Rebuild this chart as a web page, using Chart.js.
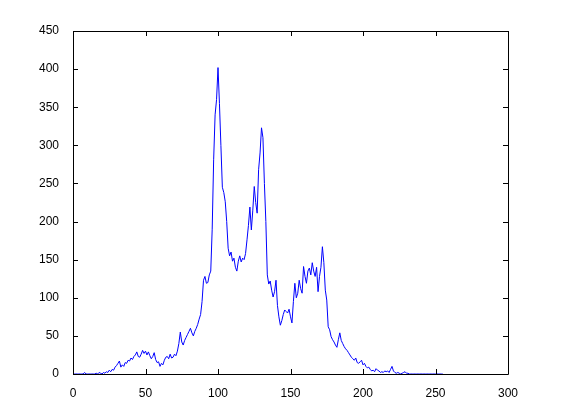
<!DOCTYPE html>
<html>
<head>
<meta charset="utf-8">
<script src="https://cdn.jsdelivr.net/npm/chart.js@4"></script>
<style>
  body { margin: 0; background: #fff; }
  canvas { display: block; }
</style>
</head>
<body>
<canvas id="chart" width="561" height="420"></canvas>
<script>
// histogram counts for grey levels 0..255
const counts = [
  0, 0, 0, 0, 0, 0, 0, 0, 2, 0,
  0, 0, 0, 0, 0, 0, 1, 0, 2, 1,
  0, 2, 1, 3, 2, 5, 3, 6, 5, 9,
  11, 14, 17, 9, 12, 10, 15, 14, 18, 17,
  21, 19, 23, 25, 29, 23, 22, 26, 31, 27,
  30, 25, 29, 24, 20, 23, 28, 19, 15, 16,
  10, 14, 12, 18, 22, 23, 20, 26, 21, 22,
  26, 24, 30, 40, 55, 42, 38, 44, 48, 52,
  56, 60, 54, 50, 56, 60, 65, 72, 78, 95,
  123, 128, 119, 120, 130, 135, 190, 281, 340, 360,
  402, 355, 300, 245, 238, 226, 200, 165, 155, 160,
  148, 152, 140, 135, 148, 155, 147, 152, 150, 158,
  176, 195, 219, 189, 215, 246, 225, 211, 268, 290,
  323, 310, 250, 200, 130, 118, 122, 110, 101, 108,
  123, 90, 75, 64, 70, 78, 84, 82, 80, 85,
  75, 67, 95, 119, 100, 106, 123, 112, 106, 141,
  128, 119, 135, 139, 130, 146, 135, 128, 140, 108,
  128, 140, 167, 146, 110, 97, 62, 58, 49, 45,
  42, 38, 35, 45, 54, 44, 40, 36, 33, 31,
  28, 25, 22, 20, 18, 21, 15, 14, 16, 18,
  12, 14, 10, 8, 9, 6, 4, 5, 3, 7,
  5, 4, 2, 3, 2, 4, 3, 4, 2, 6,
  10, 4, 2, 1, 2, 1, 0, 1, 2, 3,
  1, 1, 0, 0, 0, 0, 0, 0, 0, 0,
  0, 0, 0, 0, 0, 0, 0, 0, 0, 0,
  0, 0, 0, 0, 0, 0
];
const levels = counts.map((_, i) => i);
const xTicks = [0, 50, 100, 150, 200, 250, 300];
const yTicks = [0, 50, 100, 150, 200, 250, 300, 350, 400, 450];

// matlab style box with inward ticks on all four sides
const boxPlugin = {
  id: 'box',
  afterDraw(chart) {
    const { ctx, chartArea: a, scales } = chart;
    const len = 5;
    ctx.save();
    ctx.strokeStyle = '#000';
    ctx.lineWidth = 1;
    ctx.beginPath();
    ctx.rect(Math.round(a.left) + 0.5, Math.round(a.top) + 0.5,
      Math.round(a.right - a.left), Math.round(a.bottom - a.top));
    xTicks.forEach(v => {
      const px = Math.round(scales.x.getPixelForValue(v)) + 0.5;
      ctx.moveTo(px, a.bottom); ctx.lineTo(px, a.bottom - len);
      ctx.moveTo(px, a.top); ctx.lineTo(px, a.top + len);
    });
    yTicks.forEach(v => {
      const py = Math.round(scales.y.getPixelForValue(v)) + 0.5;
      ctx.moveTo(a.left, py); ctx.lineTo(a.left + len, py);
      ctx.moveTo(a.right, py); ctx.lineTo(a.right - len, py);
    });
    ctx.stroke();
    ctx.restore();
  }
};

new Chart(document.getElementById('chart'), {
  type: 'line',
  data: {
    labels: levels,
    datasets: [{
      data: counts.map((c, i) => ({ x: levels[i], y: c })),
      borderColor: '#0000ff',
      borderWidth: 1,
      pointRadius: 0,
      tension: 0,
      fill: false,
    }],
  },
  options: {
    responsive: false,
    animation: false,
    layout: { padding: { top: 31, right: 53, left: 0, bottom: 0 } },
    plugins: { legend: { display: false }, tooltip: { enabled: false } },
    scales: {
      x: {
        type: 'linear',
        min: 0,
        max: 300,
        afterBuildTicks: s => { s.ticks = xTicks.map(v => ({ value: v })); },
        afterFit: s => { s.height = 46; },
        grid: { display: false },
        border: { display: false },
        ticks: { color: '#000', padding: 4, maxRotation: 0, font: { family: 'Liberation Sans', size: 12 } },
      },
      y: {
        min: 0,
        max: 450,
        afterBuildTicks: s => { s.ticks = yTicks.map(v => ({ value: v })); },
        afterFit: s => { s.width = 73; },
        grid: { display: false },
        border: { display: false },
        ticks: { color: '#000', padding: 6, font: { family: 'Liberation Sans', size: 12 } },
      },
    },
  },
  plugins: [boxPlugin],
});
</script>
</body>
</html>
